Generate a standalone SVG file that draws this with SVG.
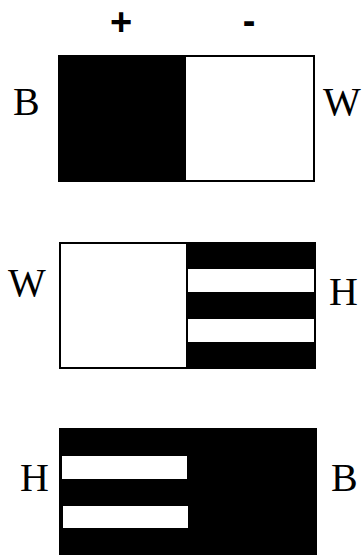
<svg xmlns="http://www.w3.org/2000/svg" width="362" height="555" viewBox="0 0 362 555">
<style>
.lbl{font-family:"Liberation Serif",serif;font-size:40px;fill:#000}
.sign{font-family:"Liberation Sans",sans-serif;font-weight:bold;font-size:38px;fill:#000;text-anchor:middle}
.blk{fill:#000}
.wht{fill:#fff}
.frame{fill:none;stroke:#000;stroke-width:2}
</style>
<rect width="362" height="555" fill="#fff"/>
<g id="signs">
<text class="sign" x="121" y="35">+</text>
<text class="sign" x="249" y="34">-</text>
</g>
<g id="panel1">
<rect class="blk" x="59" y="55" width="127" height="127"/>
<rect class="frame" x="59" y="56" width="255" height="125"/>
<text class="lbl" x="13" y="115">B</text>
<text class="lbl" x="323" y="115">W</text>
</g>
<g id="panel2">
<rect class="blk" x="186" y="242" width="130" height="127"/>
<rect class="wht" x="188" y="269" width="126" height="23"/>
<rect class="wht" x="188" y="319" width="126" height="23"/>
<rect class="frame" x="60" y="243" width="255" height="125"/>
<text class="lbl" x="8" y="296">W</text>
<text class="lbl" x="329" y="305">H</text>
</g>
<g id="panel3">
<rect class="blk" x="59" y="428" width="258" height="127"/>
<rect class="wht" x="62" y="456" width="125" height="23"/>
<rect class="wht" x="63" y="506" width="125" height="22"/>
<text class="lbl" x="20" y="491">H</text>
<text class="lbl" x="331" y="491">B</text>
</g>
</svg>
